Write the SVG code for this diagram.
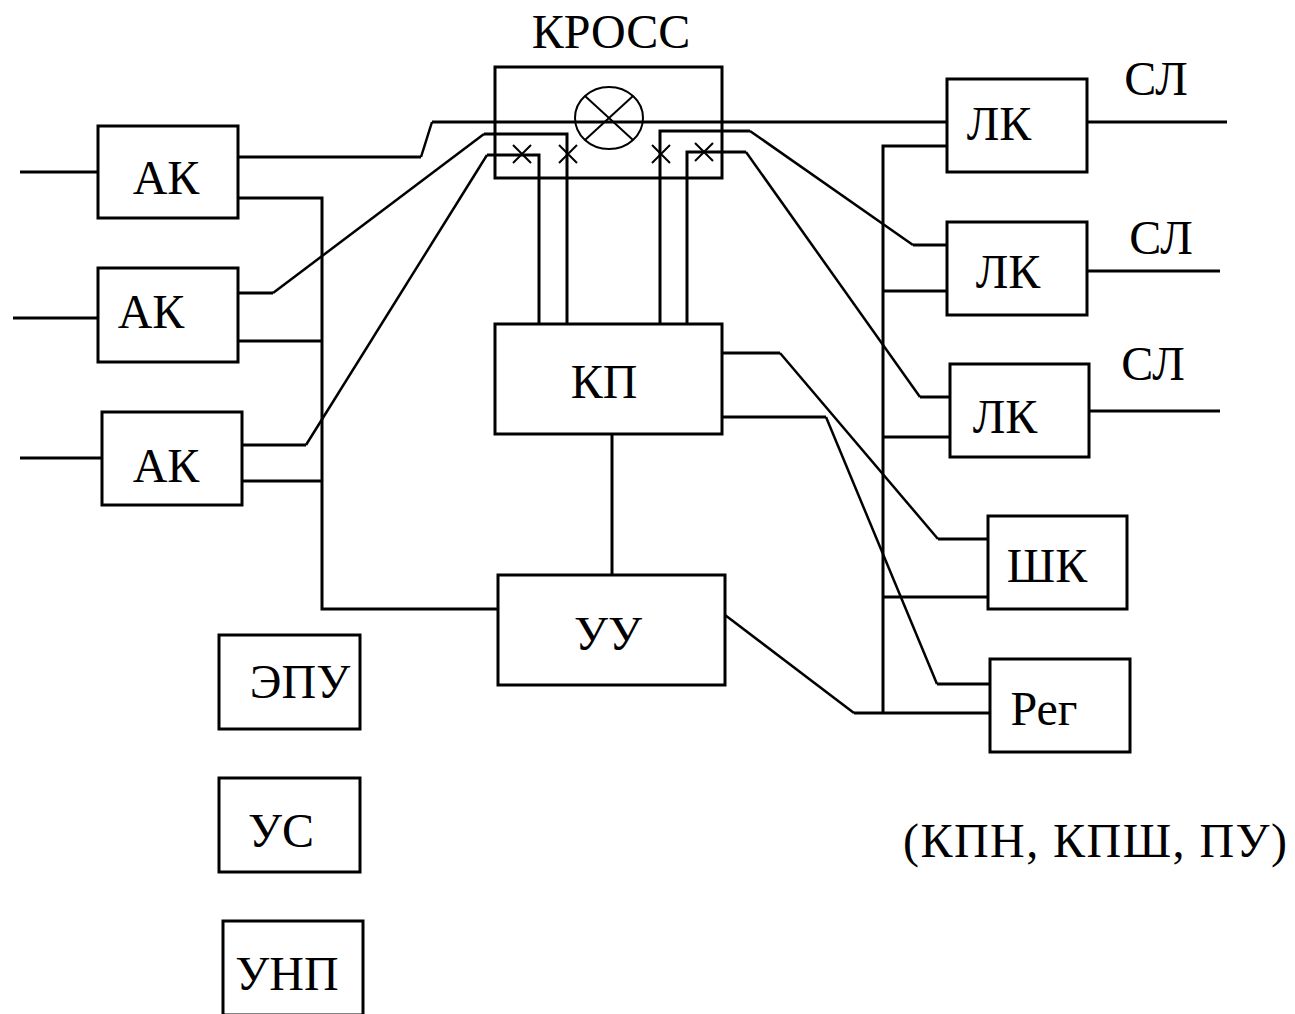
<svg xmlns="http://www.w3.org/2000/svg" width="1295" height="1014" viewBox="0 0 1295 1014" font-family="Liberation Serif, DejaVu Serif, serif">
<style>
.box{fill:none;stroke:#000;stroke-width:3}
.w{fill:none;stroke:#000;stroke-width:3;stroke-linejoin:miter}
.d{fill:none;stroke:#000;stroke-width:2.5}
.x{fill:none;stroke:#000;stroke-width:2}
.t{font-size:48px;fill:#000;text-anchor:middle}
</style>
<rect width="1295" height="1014" fill="#fff"/>
<g id="connectors">
<polyline class="w" points="20,172 98,172"/>
<polyline class="w" points="13,318 98,318"/>
<polyline class="w" points="20,458 102,458"/>
<polyline class="w" points="1087,122 1227,122"/>
<polyline class="w" points="1087,271 1220,271"/>
<polyline class="w" points="1089,411 1220,411"/>
<polyline class="w" points="238,157 421,157"/>
<polyline class="d" points="421,157 432,122"/>
<polyline class="w" points="432,122 948,122"/>
<polyline class="w" points="238,293 273,293"/>
<polyline class="d" points="273,293 484,134"/>
<polyline class="w" points="484,134 567,134 567,324"/>
<polyline class="w" points="242,445 306,445"/>
<polyline class="d" points="306,445 487,155"/>
<polyline class="w" points="487,155 539,155 539,324"/>
<polyline class="w" points="660,324 660,131 750,131"/>
<polyline class="d" points="750,131 913,245"/>
<polyline class="w" points="913,245 947,245"/>
<polyline class="w" points="687,324 687,152 746,152"/>
<polyline class="d" points="746,152 920,397"/>
<polyline class="w" points="920,397 950,397"/>
<polyline class="w" points="238,198 322,198 322,609 498,609"/>
<polyline class="w" points="238,341 322,341"/>
<polyline class="w" points="242,481 322,481"/>
<polyline class="w" points="612,434 612,575"/>
<polyline class="w" points="947,146 883,146 883,713"/>
<polyline class="w" points="883,291 947,291"/>
<polyline class="w" points="883,437 950,437"/>
<polyline class="w" points="883,597 988,597"/>
<polyline class="w" points="854,713 990,713"/>
<polyline class="d" points="725,615 854,713"/>
<polyline class="w" points="722,353 780,353"/>
<polyline class="d" points="780,353 938,539"/>
<polyline class="w" points="938,539 988,539"/>
<polyline class="w" points="722,417 826,417"/>
<polyline class="d" points="826,417 937,684"/>
<polyline class="w" points="937,684 990,684"/>
</g>
<g id="kross">
<rect class="box" x="495" y="67" width="227" height="111"/>
<ellipse class="x" cx="609" cy="118" rx="34" ry="31"/>
<line class="x" x1="585" y1="96" x2="633" y2="140"/>
<line class="x" x1="585" y1="140" x2="633" y2="96"/>
<path class="x" d="M513,145 L531,163 M513,163 L531,145"/>
<path class="x" d="M559,145 L577,163 M559,163 L577,145"/>
<path class="x" d="M652,145 L670,163 M652,163 L670,145"/>
<path class="x" d="M695,143 L713,161 M695,161 L713,143"/>
<text class="t" x="611" y="48">КРОСС</text>
</g>
<g id="ak1"><rect class="box" x="98" y="126" width="140" height="92"/><text class="t" x="166" y="194">АК</text></g>
<g id="ak2"><rect class="box" x="98" y="268" width="140" height="94"/><text class="t" x="151" y="328">АК</text></g>
<g id="ak3"><rect class="box" x="102" y="412" width="140" height="93"/><text class="t" x="166" y="482">АК</text></g>
<g id="kp"><rect class="box" x="495" y="324" width="227" height="110"/><text class="t" x="604" y="398">КП</text></g>
<g id="uu"><rect class="box" x="498" y="575" width="227" height="110"/><text class="t" x="608" y="650">УУ</text></g>
<g id="lk1"><rect class="box" x="947" y="79" width="140" height="93"/><text class="t" x="999" y="140">ЛК</text></g>
<g id="lk2"><rect class="box" x="947" y="222" width="140" height="93"/><text class="t" x="1008" y="288">ЛК</text></g>
<g id="lk3"><rect class="box" x="950" y="364" width="139" height="93"/><text class="t" x="1005" y="433">ЛК</text></g>
<g id="sl1"><text class="t" x="1156" y="95">СЛ</text></g>
<g id="sl2"><text class="t" x="1161" y="254">СЛ</text></g>
<g id="sl3"><text class="t" x="1153" y="380">СЛ</text></g>
<g id="shk"><rect class="box" x="988" y="516" width="139" height="93"/><text class="t" x="1047" y="582">ШК</text></g>
<g id="reg"><rect class="box" x="990" y="659" width="140" height="93"/><text class="t" x="1044" y="725">Рег</text></g>
<g id="epu"><rect class="box" x="219" y="635" width="141" height="94"/><text class="t" x="300" y="698">ЭПУ</text></g>
<g id="us"><rect class="box" x="219" y="778" width="141" height="94"/><text class="t" x="281" y="847">УС</text></g>
<g id="unp"><rect class="box" x="223" y="921" width="140" height="94"/><text class="t" x="287" y="990">УНП</text></g>
<g id="note"><text class="t" x="1095" y="857" textLength="384" lengthAdjust="spacing">(КПН, КПШ, ПУ)</text></g>
</svg>
